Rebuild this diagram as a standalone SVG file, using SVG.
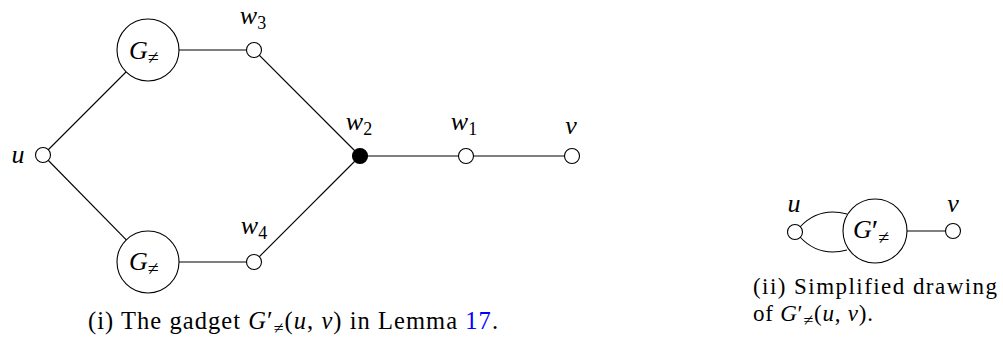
<svg xmlns="http://www.w3.org/2000/svg" width="1003" height="341" viewBox="0 0 1003 341">
<style>
.e{stroke:#000;stroke-width:1.1;fill:none}
.n{fill:#fff;stroke:#000;stroke-width:1.1}
.b{fill:#000;stroke:#000;stroke-width:1.1}
.g{fill:#fff;stroke:#000;stroke-width:1.1}
text{font-family:"Liberation Serif","DejaVu Serif",serif;font-size:26px;fill:#000}
.m{font-style:italic}
.s{font-size:18px;font-style:normal}
.z{font-size:20px;font-style:normal}
.p{font-size:30px;font-style:normal}
.p2{font-size:26px;font-style:normal}
.lk{fill:#0000ff}
.c{font-size:24.5px}
.c2{font-size:23px}
</style>
<rect width="1003" height="341" fill="#fff"/>
<g id="edges">
<line class="e" x1="43" y1="155" x2="148" y2="50"/>
<line class="e" x1="43" y1="155" x2="148" y2="262"/>
<line class="e" x1="148" y1="50" x2="254" y2="50"/>
<line class="e" x1="148" y1="262" x2="254" y2="262"/>
<line class="e" x1="254" y1="50" x2="360" y2="156"/>
<line class="e" x1="254" y1="262" x2="360" y2="156"/>
<line class="e" x1="360" y1="156" x2="572" y2="156"/>
<path class="e" d="M800,227 C812,214 828,209 847,214"/>
<path class="e" d="M800,237 C812,250 828,255 847,250"/>
<line class="e" x1="875" y1="231" x2="953" y2="231"/>
</g>
<g id="G1"><circle class="g" cx="148" cy="50" r="31"/><text x="129" y="59" font-size="28"><tspan class="m">G</tspan><tspan class="z" dy="5">≠</tspan></text></g>
<g id="G2"><circle class="g" cx="148" cy="262" r="31"/><text x="129" y="270" font-size="28"><tspan class="m">G</tspan><tspan class="z" dy="5">≠</tspan></text></g>
<g id="u"><circle class="n" cx="43" cy="155" r="7.5"/><text class="m" x="18" y="163" text-anchor="middle">u</text></g>
<g id="w3"><circle class="n" cx="254" cy="50" r="7.5"/><text x="253" y="24" text-anchor="middle"><tspan class="m">w</tspan><tspan class="s" dy="5">3</tspan></text></g>
<g id="w4"><circle class="n" cx="254" cy="262" r="7.5"/><text x="254" y="234" text-anchor="middle"><tspan class="m">w</tspan><tspan class="s" dy="5">4</tspan></text></g>
<g id="w2"><circle class="b" cx="360" cy="156" r="7.5"/><text x="359" y="130" text-anchor="middle"><tspan class="m">w</tspan><tspan class="s" dy="5">2</tspan></text></g>
<g id="w1"><circle class="n" cx="466" cy="156" r="7.5"/><text x="464" y="130" text-anchor="middle"><tspan class="m">w</tspan><tspan class="s" dy="5">1</tspan></text></g>
<g id="v"><circle class="n" cx="572" cy="156" r="7.5"/><text class="m" x="571" y="134" text-anchor="middle">v</text></g>
<g id="u2"><circle class="n" cx="795" cy="232" r="7.5"/><text class="m" x="794" y="212" text-anchor="middle">u</text></g>
<g id="Gp"><circle class="g" cx="875" cy="231" r="32"/><text x="853" y="238" font-size="28"><tspan class="m">G</tspan><tspan class="p" dy="2">′</tspan><tspan class="z" dy="4">≠</tspan></text></g>
<g id="v2"><circle class="n" cx="953" cy="231" r="7.5"/><text class="m" x="953" y="212" text-anchor="middle">v</text></g>
<text class="c" x="88" y="329" textLength="410" lengthAdjust="spacing">(i) The gadget <tspan class="m">G</tspan><tspan class="p2">′</tspan><tspan class="s" dy="5">≠</tspan><tspan dy="-5">(</tspan><tspan class="m">u</tspan>, <tspan class="m">v</tspan>) in Lemma <tspan class="lk">17</tspan>.</text>
<text class="c2" x="753" y="294" textLength="244" lengthAdjust="spacing">(ii) Simplified drawing</text>
<text class="c2" x="753" y="321" textLength="120" lengthAdjust="spacing">of <tspan class="m">G</tspan><tspan class="c2">′</tspan><tspan class="s" dy="5">≠</tspan><tspan dy="-5">(</tspan><tspan class="m">u</tspan>, <tspan class="m">v</tspan>).</text>
</svg>
